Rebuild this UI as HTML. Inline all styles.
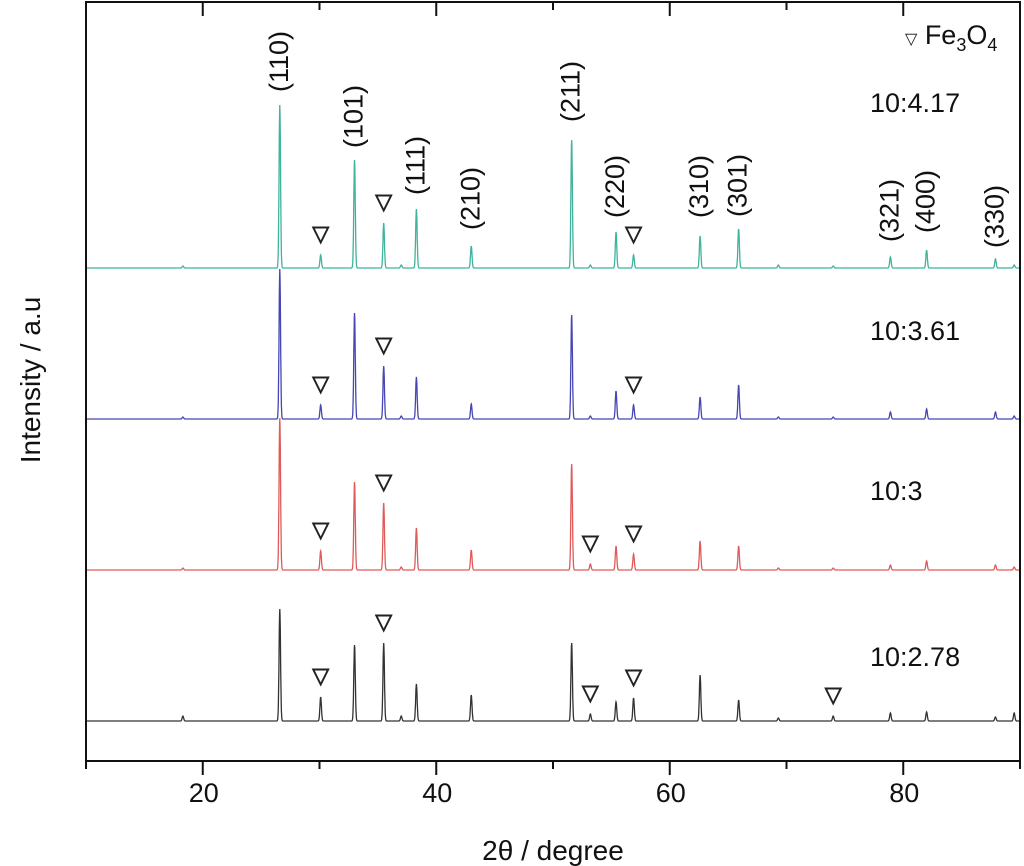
<!DOCTYPE html>
<html><head><meta charset="utf-8">
<style>
html,body{margin:0;padding:0;background:#fff;}
svg{display:block;font-family:"Liberation Sans",sans-serif;}
</style></head>
<body>
<svg id="chart" width="1024" height="866" viewBox="0 0 1024 866" xmlns="http://www.w3.org/2000/svg">
<g id="series"></g>
<g id="markers"></g>
<g id="axes"></g>
<g id="labels"></g>
</svg>
<script>
// ---- data ----
const peakPositions = [18.3, 26.6, 30.1, 33.0, 35.5, 37.0, 38.3, 43.0, 51.6, 53.2, 55.4, 56.9, 62.6, 65.9, 69.3, 74.0, 78.9, 82.0, 87.9, 89.5];
const seriesNames = ["10:4.17", "10:3.61", "10:3", "10:2.78"];
const intensityTeal  = [2, 163, 13, 108, 45, 3, 59, 22, 128, 3, 36, 13, 32, 39, 3, 2, 11, 18, 9, 3];
const intensityBlue  = [2, 150, 14, 106, 53, 3, 42, 15, 104, 3, 28, 14, 22, 34, 2, 2, 7, 10, 7, 3];
const intensityRed   = [2, 152, 19, 88, 67, 3, 42, 20, 106, 6, 24, 16, 29, 24, 2, 2, 5, 9, 5, 3];
const intensityBlack = [5, 112, 24, 76, 78, 5, 37, 26, 78, 7, 19, 23, 46, 21, 3, 5, 8, 9, 4, 8];
const seriesOffsets = [3, 2, 1, 0];
const fe3o4Teal  = [30.1, 35.5, 56.9];
const fe3o4Blue  = [30.1, 35.5, 56.9];
const fe3o4Red   = [30.1, 35.5, 53.2, 56.9];
const fe3o4Black = [30.1, 35.5, 53.2, 56.9, 74.0];
const millerLabels = ["(110)", "(101)", "(111)", "(210)", "(211)", "(220)", "(310)", "(301)", "(321)", "(400)", "(330)"];
const millerAngles = [26.6, 33.0, 38.3, 43.0, 51.6, 55.4, 62.6, 65.9, 78.9, 82.0, 87.9];
const xTicks = [20, 40, 60, 80];
const xMinorTicks = [10, 30, 50, 70, 90];

// ---- layout ----
const NS = "http://www.w3.org/2000/svg";
const plot = {l: 86, r: 1020, t: 2, b: 761};
const xMin = 10, xMax = 90;
function xScale(v){ return plot.l + (v - xMin) / (xMax - xMin) * (plot.r - plot.l); }
const baseY0 = 721, stepY = 151;
function baseline(off){ return baseY0 - off * stepY; }
function yScale(off, val){ return baseline(off) - val; }
function mk(tag, attrs, parent){ const e = document.createElementNS(NS, tag); for (const k in attrs) e.setAttribute(k, attrs[k]); parent.appendChild(e); return e; }

const colors = ["#3fb39c", "#4646b4", "#e05a5a", "#333333"];
const allIntensity = [intensityTeal, intensityBlue, intensityRed, intensityBlack];
const allMarkers = [fe3o4Teal, fe3o4Blue, fe3o4Red, fe3o4Black];
const seriesKeys = ["teal", "blue", "red", "black"];
const labelY = [112, 340, 500, 666];
const gS = document.getElementById("series");
const gM = document.getElementById("markers");
for (let s = 0; s < 4; s++) {
  const inten = allIntensity[s];
  let pts = [];
  for (let v = xMin; v <= xMax + 0.001; v += 0.02) {
    let y = 0;
    for (let i = 0; i < peakPositions.length; i++) {
      const d = (v - peakPositions[i]) / 0.09;
      y += inten[i] * Math.exp(-d * d);
    }
    pts.push(xScale(v).toFixed(1) + "," + yScale(seriesOffsets[s], y).toFixed(1));
  }
  const pl = mk("polyline", {points: pts.join(" "), fill: "none", stroke: colors[s], "stroke-width": 1.3}, gS);
  
  
  allMarkers[s].forEach(a => {
    const idx = peakPositions.indexOf(a);
    const top = yScale(seriesOffsets[s], inten[idx]);
    const t = mk("text", {x: xScale(a), y: top - 14, "text-anchor": "middle", "font-size": 22, "font-weight": "bold", fill: "#222"}, gM);
    t.textContent = "▽";
    
    
  });
  const lab = mk("text", {x: 870, y: labelY[s], "font-size": 27, fill: "#111"}, gM);
  lab.textContent = seriesNames[s];
  
  
}

// ---- axes ----
const gA = document.getElementById("axes");
const frame = mk("rect", {x: plot.l, y: plot.t, width: plot.r - plot.l, height: plot.b - plot.t, fill: "none", stroke: "#111", "stroke-width": 2}, gA);


xTicks.forEach(v => {
  const x = xScale(v);
  mk("line", {x1: x, x2: x, y1: plot.b, y2: plot.b + 14, stroke: "#111", "stroke-width": 2}, gA);
  mk("line", {x1: x, x2: x, y1: plot.t, y2: plot.t + 14, stroke: "#111", "stroke-width": 2}, gA);
  const t = mk("text", {x: x + 1, y: 802, "text-anchor": "middle", "font-size": 27, fill: "#111"}, gA);
  t.textContent = v;
  
  
});
xMinorTicks.forEach(v => {
  const x = xScale(v);
  mk("line", {x1: x, x2: x, y1: plot.b, y2: plot.b + 8, stroke: "#111", "stroke-width": 2}, gA);
  mk("line", {x1: x, x2: x, y1: plot.t, y2: plot.t + 8, stroke: "#111", "stroke-width": 2}, gA);
});
const xt = mk("text", {x: 553, y: 860, "text-anchor": "middle", "font-size": 28, fill: "#111"}, gA);
xt.textContent = "2θ / degree";


const yt = mk("text", {x: 0, y: 0, "text-anchor": "middle", "font-size": 28, fill: "#111", transform: "translate(40,380) rotate(-90)"}, gA);
yt.textContent = "Intensity / a.u";



// ---- miller labels ----
const gL = document.getElementById("labels");
const millerStartY = [92, 148, 195, 230, 122, 218, 218, 217, 242, 233, 248];
millerLabels.forEach((m, i) => {
  const x = xScale(millerAngles[i]) + 8;
  const t = mk("text", {x: 0, y: 0, "font-size": 27, fill: "#111", transform: `translate(${x},${millerStartY[i]}) rotate(-90)`}, gL);
  t.textContent = m;
  
  
});
const lg = mk("text", {x: 905, y: 44, "font-size": 27, fill: "#111"}, gL);
lg.innerHTML = '<tspan font-size="16">▽</tspan> Fe<tspan font-size="18" dy="7">3</tspan><tspan dy="-7">O</tspan><tspan font-size="18" dy="7">4</tspan>';


</script>
</body></html>
